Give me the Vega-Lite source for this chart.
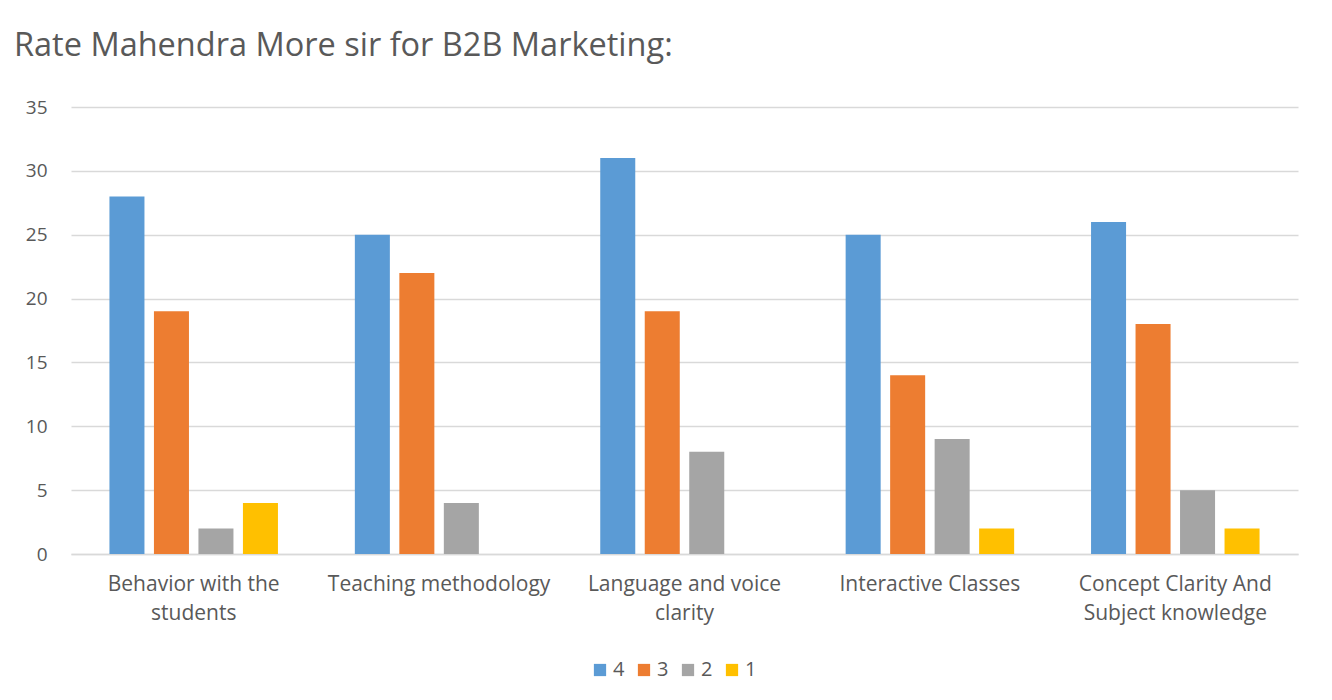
{
  "$schema": "https://vega.github.io/schema/vega-lite/v6.json",
  "autosize": "none",
  "width": 1227,
  "height": 447,
  "padding": {"left": 71, "top": 107, "right": 34, "bottom": 146},
  "background": "white",
  "title": {
    "text": "Rate Mahendra More sir for B2B Marketing:",
    "anchor": "start",
    "frame": "group",
    "dx": -57,
    "offset": 36,
    "font": "Open Sans",
    "fontSize": 32.5,
    "fontWeight": "normal",
    "color": "#595959"
  },
  "data": {
    "values": [
      {"category": "Behavior with the students", "rating": "4", "count": 28},
      {"category": "Behavior with the students", "rating": "3", "count": 19},
      {"category": "Behavior with the students", "rating": "2", "count": 2},
      {"category": "Behavior with the students", "rating": "1", "count": 4},
      {"category": "Teaching methodology", "rating": "4", "count": 25},
      {"category": "Teaching methodology", "rating": "3", "count": 22},
      {"category": "Teaching methodology", "rating": "2", "count": 4},
      {"category": "Teaching methodology", "rating": "1", "count": 0},
      {"category": "Language and voice clarity", "rating": "4", "count": 31},
      {"category": "Language and voice clarity", "rating": "3", "count": 19},
      {"category": "Language and voice clarity", "rating": "2", "count": 8},
      {"category": "Language and voice clarity", "rating": "1", "count": 0},
      {"category": "Interactive Classes", "rating": "4", "count": 25},
      {"category": "Interactive Classes", "rating": "3", "count": 14},
      {"category": "Interactive Classes", "rating": "2", "count": 9},
      {"category": "Interactive Classes", "rating": "1", "count": 2},
      {"category": "Concept Clarity And Subject knowledge", "rating": "4", "count": 26},
      {"category": "Concept Clarity And Subject knowledge", "rating": "3", "count": 18},
      {"category": "Concept Clarity And Subject knowledge", "rating": "2", "count": 5},
      {"category": "Concept Clarity And Subject knowledge", "rating": "1", "count": 2}
    ]
  },
  "mark": {"type": "bar"},
  "encoding": {
    "x": {
      "field": "category",
      "type": "nominal",
      "sort": null,
      "scale": {"paddingInner": 0, "paddingOuter": 0},
      "axis": {
        "title": null,
        "labelAngle": 0,
        "labelFont": "Open Sans",
        "labelFontSize": 21,
        "labelColor": "#595959",
        "labelPadding": 30,
        "labelLineHeight": 29,
        "labelBaseline": "middle",
        "labelLimit": 400,
        "ticks": false,
        "domainColor": "#D9D9D9",
        "domainWidth": 1.5,
        "labelExpr": "datum.value == 'Behavior with the students' ? ['Behavior with the', 'students'] : datum.value == 'Language and voice clarity' ? ['Language and voice', 'clarity'] : datum.value == 'Concept Clarity And Subject knowledge' ? ['Concept Clarity And', 'Subject knowledge'] : datum.value"
      }
    },
    "xOffset": {
      "field": "rating",
      "type": "nominal",
      "sort": ["4", "3", "2", "1"],
      "scale": {"paddingInner": 0.213, "paddingOuter": 0.864}
    },
    "y": {
      "field": "count",
      "type": "quantitative",
      "scale": {"domain": [0, 35]},
      "axis": {
        "title": null,
        "values": [0, 5, 10, 15, 20, 25, 30, 35],
        "labelFont": "Open Sans",
        "labelFontSize": 19,
        "labelColor": "#595959",
        "labelPadding": 24,
        "ticks": false,
        "domain": false,
        "gridColor": "#D9D9D9",
        "gridWidth": 1.5
      }
    },
    "color": {
      "field": "rating",
      "type": "nominal",
      "sort": ["4", "3", "2", "1"],
      "scale": {"domain": ["4", "3", "2", "1"], "range": ["#5B9BD5", "#ED7D31", "#A5A5A5", "#FFC000"]},
      "legend": {
        "title": null,
        "orient": "none",
        "legendX": 519,
        "legendY": 553,
        "direction": "horizontal",
        "symbolType": "square",
        "symbolSize": 150,
        "symbolStrokeWidth": 0,
        "labelFont": "Open Sans",
        "labelFontSize": 20,
        "labelColor": "#595959",
        "labelOffset": 3,
        "columnPadding": 9
      }
    }
  },
  "config": {
    "view": {"stroke": null}
  }
}
